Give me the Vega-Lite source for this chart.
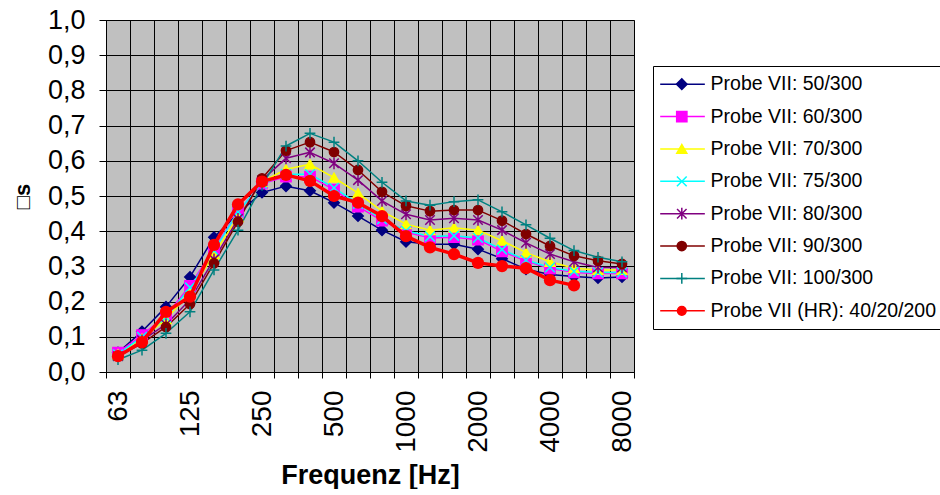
{
  "$schema": "https://vega.github.io/schema/vega-lite/v6.json",
  "background": "white",
  "padding": {"left": 10, "top": 5, "right": 0, "bottom": 0},
  "config": {"font": "Liberation Sans", "view": {"stroke": null}},
  "spacing": 15,
  "datasets": {
    "legendItems": [
      {"series": "Probe VII: 50/300"},
      {"series": "Probe VII: 60/300"},
      {"series": "Probe VII: 70/300"},
      {"series": "Probe VII: 75/300"},
      {"series": "Probe VII: 80/300"},
      {"series": "Probe VII: 90/300"},
      {"series": "Probe VII: 100/300"},
      {"series": "Probe VII (HR): 40/20/200"}
    ],
    "curves": [
      {"freq": 63, "series": "Probe VII: 50/300", "alpha": 0.055},
      {"freq": 80, "series": "Probe VII: 50/300", "alpha": 0.115},
      {"freq": 100, "series": "Probe VII: 50/300", "alpha": 0.185},
      {"freq": 125, "series": "Probe VII: 50/300", "alpha": 0.27},
      {"freq": 160, "series": "Probe VII: 50/300", "alpha": 0.383},
      {"freq": 200, "series": "Probe VII: 50/300", "alpha": 0.45},
      {"freq": 250, "series": "Probe VII: 50/300", "alpha": 0.51},
      {"freq": 315, "series": "Probe VII: 50/300", "alpha": 0.528},
      {"freq": 400, "series": "Probe VII: 50/300", "alpha": 0.515},
      {"freq": 500, "series": "Probe VII: 50/300", "alpha": 0.481},
      {"freq": 630, "series": "Probe VII: 50/300", "alpha": 0.443},
      {"freq": 800, "series": "Probe VII: 50/300", "alpha": 0.403},
      {"freq": 1000, "series": "Probe VII: 50/300", "alpha": 0.37},
      {"freq": 1250, "series": "Probe VII: 50/300", "alpha": 0.363},
      {"freq": 1600, "series": "Probe VII: 50/300", "alpha": 0.363},
      {"freq": 2000, "series": "Probe VII: 50/300", "alpha": 0.349},
      {"freq": 2500, "series": "Probe VII: 50/300", "alpha": 0.322},
      {"freq": 3150, "series": "Probe VII: 50/300", "alpha": 0.292},
      {"freq": 4000, "series": "Probe VII: 50/300", "alpha": 0.277},
      {"freq": 5000, "series": "Probe VII: 50/300", "alpha": 0.271},
      {"freq": 6300, "series": "Probe VII: 50/300", "alpha": 0.267},
      {"freq": 8000, "series": "Probe VII: 50/300", "alpha": 0.27},

      {"freq": 63, "series": "Probe VII: 60/300", "alpha": 0.055},
      {"freq": 80, "series": "Probe VII: 60/300", "alpha": 0.105},
      {"freq": 100, "series": "Probe VII: 60/300", "alpha": 0.16},
      {"freq": 125, "series": "Probe VII: 60/300", "alpha": 0.245},
      {"freq": 160, "series": "Probe VII: 60/300", "alpha": 0.35},
      {"freq": 200, "series": "Probe VII: 60/300", "alpha": 0.455},
      {"freq": 250, "series": "Probe VII: 60/300", "alpha": 0.535},
      {"freq": 315, "series": "Probe VII: 60/300", "alpha": 0.555},
      {"freq": 400, "series": "Probe VII: 60/300", "alpha": 0.555},
      {"freq": 500, "series": "Probe VII: 60/300", "alpha": 0.518},
      {"freq": 630, "series": "Probe VII: 60/300", "alpha": 0.47},
      {"freq": 800, "series": "Probe VII: 60/300", "alpha": 0.43},
      {"freq": 1000, "series": "Probe VII: 60/300", "alpha": 0.397},
      {"freq": 1250, "series": "Probe VII: 60/300", "alpha": 0.381},
      {"freq": 1600, "series": "Probe VII: 60/300", "alpha": 0.383},
      {"freq": 2000, "series": "Probe VII: 60/300", "alpha": 0.376},
      {"freq": 2500, "series": "Probe VII: 60/300", "alpha": 0.343},
      {"freq": 3150, "series": "Probe VII: 60/300", "alpha": 0.315},
      {"freq": 4000, "series": "Probe VII: 60/300", "alpha": 0.294},
      {"freq": 5000, "series": "Probe VII: 60/300", "alpha": 0.283},
      {"freq": 6300, "series": "Probe VII: 60/300", "alpha": 0.28},
      {"freq": 8000, "series": "Probe VII: 60/300", "alpha": 0.28},

      {"freq": 63, "series": "Probe VII: 70/300", "alpha": 0.05},
      {"freq": 80, "series": "Probe VII: 70/300", "alpha": 0.095},
      {"freq": 100, "series": "Probe VII: 70/300", "alpha": 0.15},
      {"freq": 125, "series": "Probe VII: 70/300", "alpha": 0.225},
      {"freq": 160, "series": "Probe VII: 70/300", "alpha": 0.335},
      {"freq": 200, "series": "Probe VII: 70/300", "alpha": 0.44},
      {"freq": 250, "series": "Probe VII: 70/300", "alpha": 0.54},
      {"freq": 315, "series": "Probe VII: 70/300", "alpha": 0.576},
      {"freq": 400, "series": "Probe VII: 70/300", "alpha": 0.59},
      {"freq": 500, "series": "Probe VII: 70/300", "alpha": 0.552},
      {"freq": 630, "series": "Probe VII: 70/300", "alpha": 0.508},
      {"freq": 800, "series": "Probe VII: 70/300", "alpha": 0.457},
      {"freq": 1000, "series": "Probe VII: 70/300", "alpha": 0.42},
      {"freq": 1250, "series": "Probe VII: 70/300", "alpha": 0.403},
      {"freq": 1600, "series": "Probe VII: 70/300", "alpha": 0.41},
      {"freq": 2000, "series": "Probe VII: 70/300", "alpha": 0.403},
      {"freq": 2500, "series": "Probe VII: 70/300", "alpha": 0.373},
      {"freq": 3150, "series": "Probe VII: 70/300", "alpha": 0.339},
      {"freq": 4000, "series": "Probe VII: 70/300", "alpha": 0.313},
      {"freq": 5000, "series": "Probe VII: 70/300", "alpha": 0.295},
      {"freq": 6300, "series": "Probe VII: 70/300", "alpha": 0.29},
      {"freq": 8000, "series": "Probe VII: 70/300", "alpha": 0.29},

      {"freq": 63, "series": "Probe VII: 75/300", "alpha": 0.05},
      {"freq": 80, "series": "Probe VII: 75/300", "alpha": 0.1},
      {"freq": 100, "series": "Probe VII: 75/300", "alpha": 0.155},
      {"freq": 125, "series": "Probe VII: 75/300", "alpha": 0.24},
      {"freq": 160, "series": "Probe VII: 75/300", "alpha": 0.345},
      {"freq": 200, "series": "Probe VII: 75/300", "alpha": 0.455},
      {"freq": 250, "series": "Probe VII: 75/300", "alpha": 0.535},
      {"freq": 315, "series": "Probe VII: 75/300", "alpha": 0.562},
      {"freq": 400, "series": "Probe VII: 75/300", "alpha": 0.562},
      {"freq": 500, "series": "Probe VII: 75/300", "alpha": 0.523},
      {"freq": 630, "series": "Probe VII: 75/300", "alpha": 0.478},
      {"freq": 800, "series": "Probe VII: 75/300", "alpha": 0.434},
      {"freq": 1000, "series": "Probe VII: 75/300", "alpha": 0.401},
      {"freq": 1250, "series": "Probe VII: 75/300", "alpha": 0.385},
      {"freq": 1600, "series": "Probe VII: 75/300", "alpha": 0.387},
      {"freq": 2000, "series": "Probe VII: 75/300", "alpha": 0.381},
      {"freq": 2500, "series": "Probe VII: 75/300", "alpha": 0.348},
      {"freq": 3150, "series": "Probe VII: 75/300", "alpha": 0.318},
      {"freq": 4000, "series": "Probe VII: 75/300", "alpha": 0.297},
      {"freq": 5000, "series": "Probe VII: 75/300", "alpha": 0.286},
      {"freq": 6300, "series": "Probe VII: 75/300", "alpha": 0.283},
      {"freq": 8000, "series": "Probe VII: 75/300", "alpha": 0.283},

      {"freq": 63, "series": "Probe VII: 80/300", "alpha": 0.045},
      {"freq": 80, "series": "Probe VII: 80/300", "alpha": 0.09},
      {"freq": 100, "series": "Probe VII: 80/300", "alpha": 0.135},
      {"freq": 125, "series": "Probe VII: 80/300", "alpha": 0.205},
      {"freq": 160, "series": "Probe VII: 80/300", "alpha": 0.32},
      {"freq": 200, "series": "Probe VII: 80/300", "alpha": 0.435},
      {"freq": 250, "series": "Probe VII: 80/300", "alpha": 0.545},
      {"freq": 315, "series": "Probe VII: 80/300", "alpha": 0.607},
      {"freq": 400, "series": "Probe VII: 80/300", "alpha": 0.624},
      {"freq": 500, "series": "Probe VII: 80/300", "alpha": 0.593},
      {"freq": 630, "series": "Probe VII: 80/300", "alpha": 0.545},
      {"freq": 800, "series": "Probe VII: 80/300", "alpha": 0.486},
      {"freq": 1000, "series": "Probe VII: 80/300", "alpha": 0.448},
      {"freq": 1250, "series": "Probe VII: 80/300", "alpha": 0.432},
      {"freq": 1600, "series": "Probe VII: 80/300", "alpha": 0.437},
      {"freq": 2000, "series": "Probe VII: 80/300", "alpha": 0.432},
      {"freq": 2500, "series": "Probe VII: 80/300", "alpha": 0.403},
      {"freq": 3150, "series": "Probe VII: 80/300", "alpha": 0.367},
      {"freq": 4000, "series": "Probe VII: 80/300", "alpha": 0.335},
      {"freq": 5000, "series": "Probe VII: 80/300", "alpha": 0.313},
      {"freq": 6300, "series": "Probe VII: 80/300", "alpha": 0.297},
      {"freq": 8000, "series": "Probe VII: 80/300", "alpha": 0.297},

      {"freq": 63, "series": "Probe VII: 90/300", "alpha": 0.045},
      {"freq": 80, "series": "Probe VII: 90/300", "alpha": 0.081},
      {"freq": 100, "series": "Probe VII: 90/300", "alpha": 0.128},
      {"freq": 125, "series": "Probe VII: 90/300", "alpha": 0.193},
      {"freq": 160, "series": "Probe VII: 90/300", "alpha": 0.309},
      {"freq": 200, "series": "Probe VII: 90/300", "alpha": 0.427},
      {"freq": 250, "series": "Probe VII: 90/300", "alpha": 0.55},
      {"freq": 315, "series": "Probe VII: 90/300", "alpha": 0.629},
      {"freq": 400, "series": "Probe VII: 90/300", "alpha": 0.653},
      {"freq": 500, "series": "Probe VII: 90/300", "alpha": 0.625},
      {"freq": 630, "series": "Probe VII: 90/300", "alpha": 0.574},
      {"freq": 800, "series": "Probe VII: 90/300", "alpha": 0.512},
      {"freq": 1000, "series": "Probe VII: 90/300", "alpha": 0.472},
      {"freq": 1250, "series": "Probe VII: 90/300", "alpha": 0.457},
      {"freq": 1600, "series": "Probe VII: 90/300", "alpha": 0.46},
      {"freq": 2000, "series": "Probe VII: 90/300", "alpha": 0.46},
      {"freq": 2500, "series": "Probe VII: 90/300", "alpha": 0.43},
      {"freq": 3150, "series": "Probe VII: 90/300", "alpha": 0.392},
      {"freq": 4000, "series": "Probe VII: 90/300", "alpha": 0.358},
      {"freq": 5000, "series": "Probe VII: 90/300", "alpha": 0.33},
      {"freq": 6300, "series": "Probe VII: 90/300", "alpha": 0.316},
      {"freq": 8000, "series": "Probe VII: 90/300", "alpha": 0.307},

      {"freq": 63, "series": "Probe VII: 100/300", "alpha": 0.035},
      {"freq": 80, "series": "Probe VII: 100/300", "alpha": 0.062},
      {"freq": 100, "series": "Probe VII: 100/300", "alpha": 0.11},
      {"freq": 125, "series": "Probe VII: 100/300", "alpha": 0.171},
      {"freq": 160, "series": "Probe VII: 100/300", "alpha": 0.29},
      {"freq": 200, "series": "Probe VII: 100/300", "alpha": 0.403},
      {"freq": 250, "series": "Probe VII: 100/300", "alpha": 0.53},
      {"freq": 315, "series": "Probe VII: 100/300", "alpha": 0.642},
      {"freq": 400, "series": "Probe VII: 100/300", "alpha": 0.678},
      {"freq": 500, "series": "Probe VII: 100/300", "alpha": 0.653},
      {"freq": 630, "series": "Probe VII: 100/300", "alpha": 0.6},
      {"freq": 800, "series": "Probe VII: 100/300", "alpha": 0.539},
      {"freq": 1000, "series": "Probe VII: 100/300", "alpha": 0.486},
      {"freq": 1250, "series": "Probe VII: 100/300", "alpha": 0.474},
      {"freq": 1600, "series": "Probe VII: 100/300", "alpha": 0.484},
      {"freq": 2000, "series": "Probe VII: 100/300", "alpha": 0.489},
      {"freq": 2500, "series": "Probe VII: 100/300", "alpha": 0.455},
      {"freq": 3150, "series": "Probe VII: 100/300", "alpha": 0.418},
      {"freq": 4000, "series": "Probe VII: 100/300", "alpha": 0.38},
      {"freq": 5000, "series": "Probe VII: 100/300", "alpha": 0.345},
      {"freq": 6300, "series": "Probe VII: 100/300", "alpha": 0.326},
      {"freq": 8000, "series": "Probe VII: 100/300", "alpha": 0.313},

      {"freq": 63, "series": "Probe VII (HR): 40/20/200", "alpha": 0.045},
      {"freq": 80, "series": "Probe VII (HR): 40/20/200", "alpha": 0.085},
      {"freq": 100, "series": "Probe VII (HR): 40/20/200", "alpha": 0.171},
      {"freq": 125, "series": "Probe VII (HR): 40/20/200", "alpha": 0.214},
      {"freq": 160, "series": "Probe VII (HR): 40/20/200", "alpha": 0.361},
      {"freq": 200, "series": "Probe VII (HR): 40/20/200", "alpha": 0.476},
      {"freq": 250, "series": "Probe VII (HR): 40/20/200", "alpha": 0.541},
      {"freq": 315, "series": "Probe VII (HR): 40/20/200", "alpha": 0.56},
      {"freq": 400, "series": "Probe VII (HR): 40/20/200", "alpha": 0.543},
      {"freq": 500, "series": "Probe VII (HR): 40/20/200", "alpha": 0.5},
      {"freq": 630, "series": "Probe VII (HR): 40/20/200", "alpha": 0.481},
      {"freq": 800, "series": "Probe VII (HR): 40/20/200", "alpha": 0.443},
      {"freq": 1000, "series": "Probe VII (HR): 40/20/200", "alpha": 0.386},
      {"freq": 1250, "series": "Probe VII (HR): 40/20/200", "alpha": 0.354},
      {"freq": 1600, "series": "Probe VII (HR): 40/20/200", "alpha": 0.335},
      {"freq": 2000, "series": "Probe VII (HR): 40/20/200", "alpha": 0.31},
      {"freq": 2500, "series": "Probe VII (HR): 40/20/200", "alpha": 0.301},
      {"freq": 3150, "series": "Probe VII (HR): 40/20/200", "alpha": 0.295},
      {"freq": 4000, "series": "Probe VII (HR): 40/20/200", "alpha": 0.261},
      {"freq": 5000, "series": "Probe VII (HR): 40/20/200", "alpha": 0.246}
    ]
  },
  "hconcat": [
    {
      "width": 528,
      "height": 352,
      "view": {"fill": "#c0c0c0", "stroke": "#808080", "strokeWidth": 1},
      "data": {"name": "curves"},
      "encoding": {
        "x": {
          "field": "freq", "type": "ordinal",
          "scale": {"type": "band", "paddingInner": 0, "paddingOuter": 0},
          "axis": {
            "title": "Frequenz [Hz]", "titleFontSize": 27, "titleFontWeight": "bold", "titleColor": "black", "titlePadding": 10,
            "labelAngle": -90, "labelFontSize": 28, "labelColor": "black", "labelPadding": 12, "labelOverlap": false,
            "labelExpr": "indexof(['63','125','250','500','1000','2000','4000','8000'], datum.label) >= 0 ? datum.label : ''",
            "tickBand": "extent", "grid": true, "gridColor": "black", "gridWidth": 1, "gridOpacity": 1,
            "tickColor": "black", "tickSize": 6, "domainColor": "black", "domainWidth": 1
          }
        },
        "y": {
          "field": "alpha", "type": "quantitative",
          "scale": {"domain": [0, 1], "nice": false, "zero": true},
          "axis": {
            "title": "□s", "titleFontSize": 22, "titleFontWeight": "bold", "titleColor": "black", "titlePadding": 13,
            "values": [0, 0.1, 0.2, 0.3, 0.4, 0.5, 0.6, 0.7, 0.8, 0.9, 1.0],
            "labelExpr": "replace(format(datum.value, '.1f'), '.', ',')",
            "labelFontSize": 27, "labelColor": "black", "labelPadding": 14,
            "tickSize": 7, "tickColor": "black", "grid": true, "gridColor": "black", "gridWidth": 1, "gridOpacity": 1,
            "domainColor": "black", "domainWidth": 1
          }
        },
        "color": {
          "field": "series", "type": "nominal", "legend": null,
          "scale": {
            "domain": ["Probe VII: 50/300", "Probe VII: 60/300", "Probe VII: 70/300", "Probe VII: 75/300", "Probe VII: 80/300", "Probe VII: 90/300", "Probe VII: 100/300", "Probe VII (HR): 40/20/200"],
            "range": ["#000080", "#ff00ff", "#ffff00", "#00ffff", "#800080", "#800000", "#008080", "#ff0000"]
          }
        }
      },
      "layer": [
        {
          "transform": [{"filter": "datum.series !== 'Probe VII (HR): 40/20/200'"}],
          "mark": {"type": "line", "strokeWidth": 1.5, "strokeJoin": "round"}
        },
        {
          "transform": [{"filter": "datum.series !== 'Probe VII (HR): 40/20/200'"}],
          "mark": {"type": "point", "filled": true, "opacity": 1, "strokeWidth": 1.5},
          "encoding": {
            "stroke": {
              "field": "series", "type": "nominal", "legend": null,
              "scale": {
                "domain": ["Probe VII: 50/300", "Probe VII: 60/300", "Probe VII: 70/300", "Probe VII: 75/300", "Probe VII: 80/300", "Probe VII: 90/300", "Probe VII: 100/300", "Probe VII (HR): 40/20/200"],
                "range": ["#000080", "#ff00ff", "#ffff00", "#00ffff", "#800080", "#800000", "#008080", "#ff0000"]
              }
            },
            "shape": {
              "field": "series", "type": "nominal", "legend": null,
              "scale": {
                "domain": ["Probe VII: 50/300", "Probe VII: 60/300", "Probe VII: 70/300", "Probe VII: 75/300", "Probe VII: 80/300", "Probe VII: 90/300", "Probe VII: 100/300", "Probe VII (HR): 40/20/200"],
                "range": ["diamond", "square", "triangle-up", "M-1,-1L1,1M-1,1L1,-1", "M-1,-1L1,1M-1,1L1,-1M0,-1.25L0,1.25", "circle", "M-1.2,0L1.2,0M0,-1.2L0,1.2", "circle"]
              }
            },
            "size": {
              "field": "series", "type": "nominal", "legend": null,
              "scale": {
                "domain": ["Probe VII: 50/300", "Probe VII: 60/300", "Probe VII: 70/300", "Probe VII: 75/300", "Probe VII: 80/300", "Probe VII: 90/300", "Probe VII: 100/300", "Probe VII (HR): 40/20/200"],
                "range": [110, 75, 120, 90, 110, 120, 100, 150]
              }
            }
          }
        },
        {
          "transform": [{"filter": "datum.series === 'Probe VII (HR): 40/20/200'"}],
          "mark": {"type": "line", "strokeWidth": 3.5, "strokeJoin": "round"}
        },
        {
          "transform": [{"filter": "datum.series === 'Probe VII (HR): 40/20/200'"}],
          "mark": {"type": "point", "filled": true, "opacity": 1, "shape": "circle", "size": 150}
        }
      ]
    },
    {
      "spacing": 0,
      "vconcat": [
        {
          "width": 288,
          "height": 45,
          "view": {"fill": "white", "stroke": null},
          "data": {"values": []},
          "mark": "point"
        },
        {
          "width": 288,
          "height": 263,
          "view": {"fill": "white", "stroke": "black", "strokeWidth": 1},
          "data": {"name": "legendItems"},
          "encoding": {
            "y": {
              "field": "series", "type": "nominal", "axis": null,
              "scale": {
                "type": "point", "padding": 0.56,
                "domain": ["Probe VII: 50/300", "Probe VII: 60/300", "Probe VII: 70/300", "Probe VII: 75/300", "Probe VII: 80/300", "Probe VII: 90/300", "Probe VII: 100/300", "Probe VII (HR): 40/20/200"]
              }
            },
            "color": {
              "field": "series", "type": "nominal", "legend": null,
              "scale": {
                "domain": ["Probe VII: 50/300", "Probe VII: 60/300", "Probe VII: 70/300", "Probe VII: 75/300", "Probe VII: 80/300", "Probe VII: 90/300", "Probe VII: 100/300", "Probe VII (HR): 40/20/200"],
                "range": ["#000080", "#ff00ff", "#ffff00", "#00ffff", "#800080", "#800000", "#008080", "#ff0000"]
              }
            }
          },
          "layer": [
            {
              "mark": {"type": "rule"},
              "encoding": {
                "x": {"datum": 0.25, "type": "quantitative", "scale": {"domain": [0, 10], "nice": false, "zero": false}, "axis": null},
                "x2": {"datum": 1.8},
                "strokeWidth": {
                  "field": "series", "type": "nominal", "legend": null,
                  "scale": {
                    "domain": ["Probe VII: 50/300", "Probe VII: 60/300", "Probe VII: 70/300", "Probe VII: 75/300", "Probe VII: 80/300", "Probe VII: 90/300", "Probe VII: 100/300", "Probe VII (HR): 40/20/200"],
                    "range": [1.5, 1.5, 1.5, 1.5, 1.5, 1.5, 1.5, 3.5]
                  }
                }
              }
            },
            {
              "mark": {"type": "point", "filled": true, "opacity": 1, "strokeWidth": 1.5},
              "encoding": {
                "x": {"datum": 1.0, "type": "quantitative"},
                "stroke": {
                  "field": "series", "type": "nominal", "legend": null,
                  "scale": {
                    "domain": ["Probe VII: 50/300", "Probe VII: 60/300", "Probe VII: 70/300", "Probe VII: 75/300", "Probe VII: 80/300", "Probe VII: 90/300", "Probe VII: 100/300", "Probe VII (HR): 40/20/200"],
                    "range": ["#000080", "#ff00ff", "#ffff00", "#00ffff", "#800080", "#800000", "#008080", "#ff0000"]
                  }
                },
                "shape": {
                  "field": "series", "type": "nominal", "legend": null,
                  "scale": {
                    "domain": ["Probe VII: 50/300", "Probe VII: 60/300", "Probe VII: 70/300", "Probe VII: 75/300", "Probe VII: 80/300", "Probe VII: 90/300", "Probe VII: 100/300", "Probe VII (HR): 40/20/200"],
                    "range": ["diamond", "square", "triangle-up", "M-1,-1L1,1M-1,1L1,-1", "M-1,-1L1,1M-1,1L1,-1M0,-1.25L0,1.25", "circle", "M-1.2,0L1.2,0M0,-1.2L0,1.2", "circle"]
                  }
                },
                "size": {
                  "field": "series", "type": "nominal", "legend": null,
                  "scale": {
                    "domain": ["Probe VII: 50/300", "Probe VII: 60/300", "Probe VII: 70/300", "Probe VII: 75/300", "Probe VII: 80/300", "Probe VII: 90/300", "Probe VII: 100/300", "Probe VII (HR): 40/20/200"],
                    "range": [110, 75, 120, 90, 110, 120, 100, 150]
                  }
                }
              }
            },
            {
              "mark": {"type": "text", "align": "left", "baseline": "middle", "fontSize": 19.5, "color": "black"},
              "encoding": {
                "x": {"datum": 2.0, "type": "quantitative"},
                "text": {"field": "series", "type": "nominal"},
                "color": {"value": "black"}
              }
            }
          ]
        }
      ]
    }
  ]
}
